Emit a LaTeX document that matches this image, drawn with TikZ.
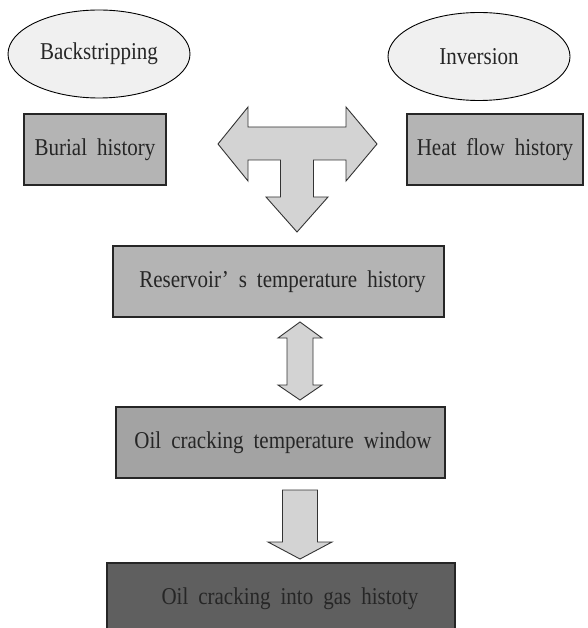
\documentclass[tikz,border=0pt]{standalone}
\usepackage{graphicx}
\usepackage{fontspec}
\setmainfont{Liberation Serif}
\usepackage{tikz}
\usetikzlibrary{positioning,shapes.geometric}
\definecolor{shell}{HTML}{F0F0F0}
\definecolor{stone}{HTML}{B4B4B4}
\definecolor{ash}{HTML}{A3A3A3}
\definecolor{coal}{HTML}{5F5F5F}
\definecolor{pale}{HTML}{D3D3D3}
\definecolor{ink}{HTML}{262626}
\newcommand{\tall}[1]{\scalebox{1}[1.15]{#1}}
\newcommand{\widespace}{\spaceskip=10pt plus 2pt\relax}
\tikzset{
  method/.style={ellipse, draw=black, fill=shell, line width=0.9pt, inner sep=0pt,
                 minimum width=182pt, minimum height=88pt, text=ink,
                 font=\fontsize{21}{24}\selectfont},
  histbox/.style={rectangle, draw=black!85, fill=stone, line width=1.3pt, inner sep=0pt,
                  minimum height=71pt, text=ink,
                  font=\fontsize{21}{24}\selectfont\widespace},
  blk/.style={draw=black!80, fill=pale, line width=0.9pt, line join=miter}
}

\begin{document}
\begin{tikzpicture}[x=1pt, y=-1pt]
 \useasboundingbox (0,0) rectangle (587,628);

 % inputs
 \node[method] (back) at (99,54) {\tall{Backstripping}};
 \node[method] (inv) at (479,56.5) {\tall{Inversion}};
 \node[histbox, minimum width=142pt] (burial) at (95,149.5) {\tall{Burial history}};
 \node[histbox, minimum width=176pt] (heat) at (495,149.5) {\tall{Heat flow history}};

 % merging arrow
 \coordinate (tee) at (297,144);
 \draw[blk] (tee) +(-79,0) -- +(-49,-37) -- +(-49,-17) -- +(49,-17) -- +(49,-37) -- +(80,0)
   -- +(49,37) -- +(49,16) -- +(16.5,16) -- +(16.5,53) -- +(31,53) -- +(0,88)
   -- +(-31,53) -- +(-16.5,53) -- +(-16.5,16) -- +(-49,16) -- +(-49,37) -- cycle;

 % chain
 \node[histbox, minimum width=331pt] (res) at (278.5,281.5) {\tall{\hspace*{8pt}Reservoir’ s temperature history}};
 \node[histbox, minimum width=329pt, fill=ash] (win) at (280.5,442.5) {\tall{\hspace*{5pt}Oil cracking temperature window}};
 \node[histbox, minimum width=348pt, fill=coal] (gas) at (281,598.5) {\tall{\hspace*{18pt}Oil cracking into gas histoty}};

 \coordinate (dbl) at (300,361);
 \draw[blk] (dbl) +(0,-39) -- +(22,-23) -- +(13,-23) -- +(13,24) -- +(22,24) -- +(0,39)
   -- +(-22,24) -- +(-13,24) -- +(-13,-23) -- +(-22,-23) -- cycle;

 \coordinate (down) at (300,524.5);
 \draw[blk] (down) +(-17.5,-34.5) -- +(17.5,-34.5) -- +(17.5,17.5) -- +(32,17.5) -- +(0,34.5)
   -- +(-32,17.5) -- +(-17.5,17.5) -- cycle;
\end{tikzpicture}
\end{document}
